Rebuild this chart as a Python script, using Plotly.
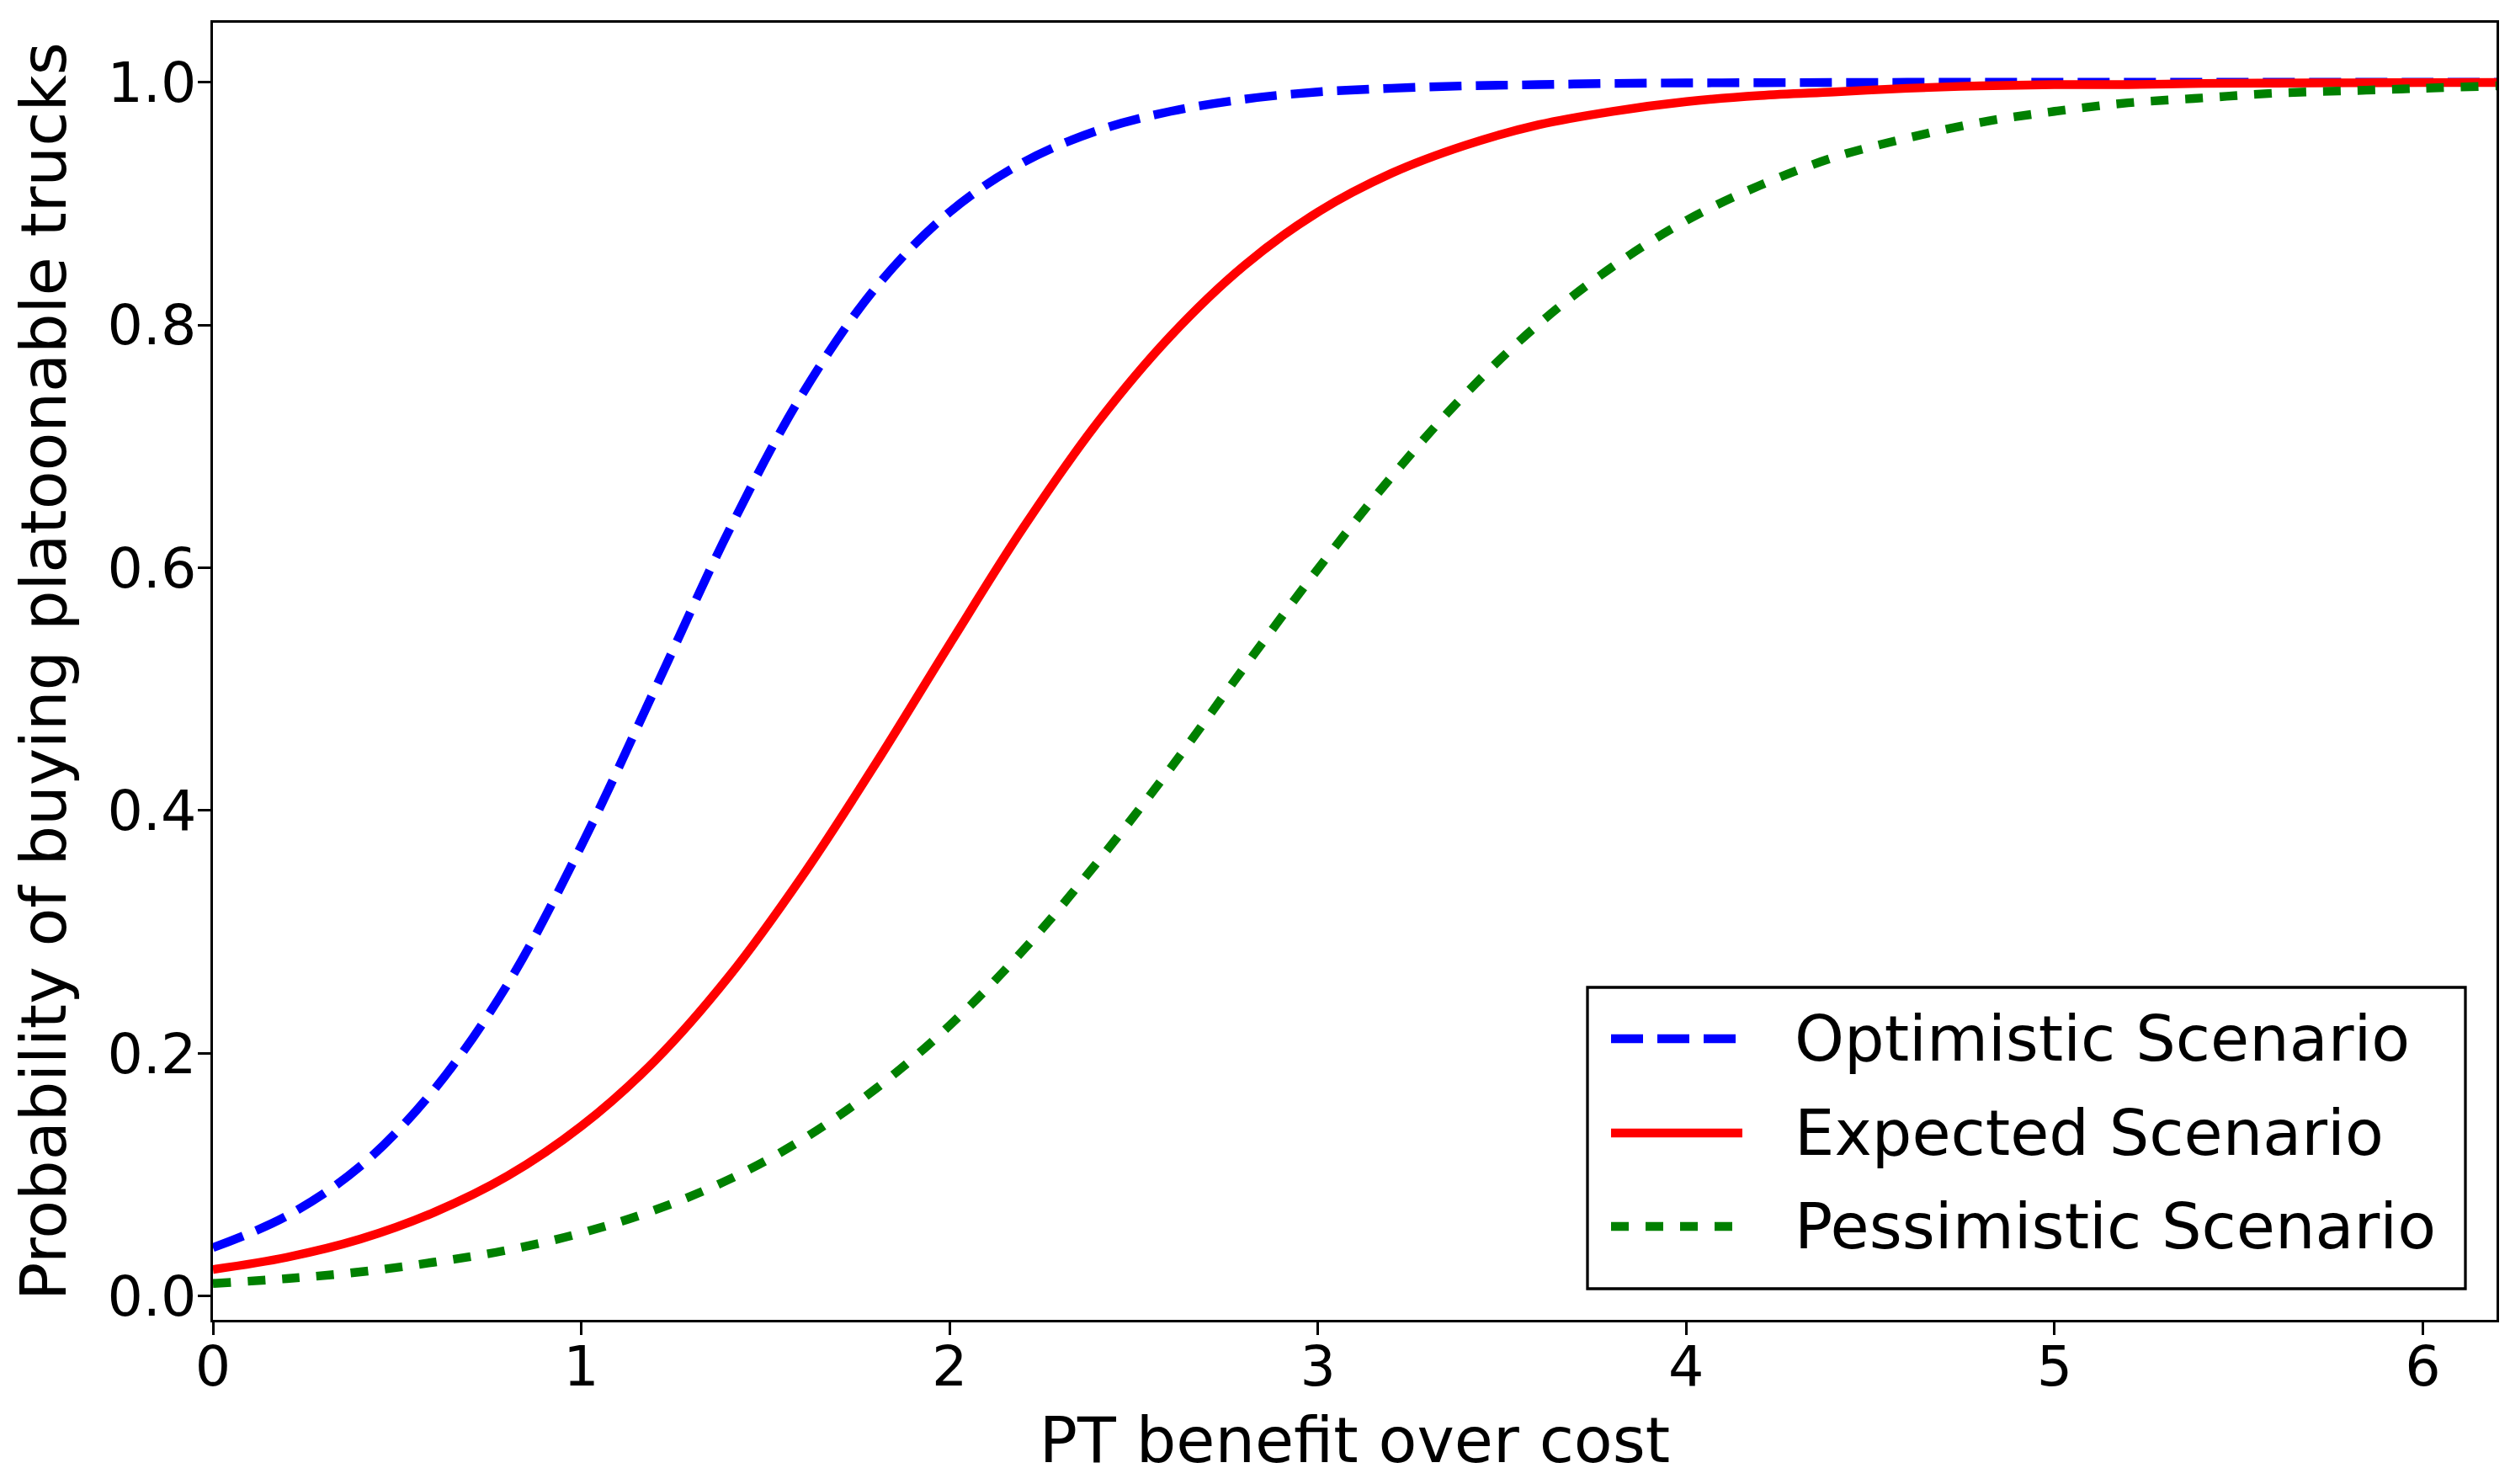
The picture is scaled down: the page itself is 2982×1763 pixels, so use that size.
import plotly.graph_objects as go

# ---- data ----
benefit = [0.0, 0.2, 0.4, 0.6, 0.8, 1.0, 1.2, 1.4, 1.6, 1.8, 2.0, 2.2, 2.4, 2.6, 2.8, 3.0,
           3.2, 3.4, 3.6, 3.8, 4.0, 4.2, 4.4, 4.6, 4.8, 5.0, 5.2, 5.4, 5.6, 5.8, 6.0, 6.2]

optimistic = [0.040, 0.066, 0.107, 0.170, 0.257, 0.371, 0.500, 0.630, 0.743, 0.831, 0.893,
              0.934, 0.960, 0.976, 0.986, 0.992, 0.995, 0.997, 0.998, 0.999, 0.9994, 0.9996,
              0.9998, 0.9999, 0.9999, 1.0, 1.0, 1.0, 1.0, 1.0, 1.0, 1.0]

expected = [0.022, 0.032, 0.047, 0.069, 0.099, 0.140, 0.194, 0.263, 0.346, 0.439, 0.537,
            0.633, 0.719, 0.791, 0.849, 0.893, 0.925, 0.948, 0.965, 0.976, 0.984, 0.989,
            0.992, 0.995, 0.997, 0.998, 0.998, 0.999, 0.9993, 0.9995, 0.9997, 0.9998]

pessimistic = [0.0105, 0.0145, 0.020, 0.028, 0.038, 0.052, 0.071, 0.096, 0.129, 0.171, 0.223,
               0.285, 0.357, 0.435, 0.518, 0.599, 0.675, 0.743, 0.801, 0.848, 0.886, 0.915,
               0.938, 0.954, 0.967, 0.976, 0.983, 0.987, 0.991, 0.993, 0.995, 0.997]

series_names = ["Optimistic Scenario", "Expected Scenario", "Pessimistic Scenario"]
x_ticks = [0, 1, 2, 3, 4, 5, 6]
y_ticks = [0.0, 0.2, 0.4, 0.6, 0.8, 1.0]
x_title = "PT benefit over cost"
y_title = "Probability of buying platoonable trucks"

# ---- styles ----
OFF = 8                      # default page body margin
W, H = 2982 - 2 * OFF, 1763 - 2 * OFF
L, T = 253 - OFF, 27 - OFF
PW, PH = 2966 - 253, 1568 - 27
R, B = W - L - PW, H - T - PH
FONT = "DejaVu Sans"
colors = ["#0000ff", "#ff0000", "#008000"]
dashes = ["38px,17px", "solid", "21px,20px"]
LW = 10.4

fig = go.Figure()
for name, ys, c, d in zip(series_names, [optimistic, expected, pessimistic], colors, dashes):
    fig.add_trace(go.Scatter(
        x=benefit, y=ys, mode="lines", name=name, showlegend=False,
        line=dict(color=c, width=LW, dash=d, shape="spline", smoothing=1.0),
    ))

axis_common = dict(
    showline=True, linecolor="black", linewidth=3.3, mirror=True,
    ticks="outside", ticklen=15, tickwidth=3.3, tickcolor="black",
    showgrid=False, zeroline=False,
    tickfont=dict(family=FONT, size=66.7, color="black"),
)

fig.update_layout(
    width=W, height=H,
    margin=dict(l=L, r=R, t=T, b=B, autoexpand=False),
    paper_bgcolor="white", plot_bgcolor="white",
    font=dict(family=FONT, color="black"),
    xaxis=dict(range=[0, 6.2], tickvals=x_ticks, ticktext=[str(v) for v in x_ticks],
               ticklabelstandoff=-20,
               title=dict(text=x_title, font=dict(family=FONT, size=75, color="black"), standoff=26),
               **axis_common),
    yaxis=dict(range=[-0.0195, 1.049], tickvals=y_ticks, ticktext=[f"{v:.1f}" for v in y_ticks],
               ticklabelstandoff=-12,
               title=dict(text=y_title, font=dict(family=FONT, size=75, color="black"), standoff=28),
               **axis_common),
)

# ---- legend drawn in paper coordinates (page-pixel positions converted) ----
def px(xp):
    return (xp - 253) / PW
def py(yp):
    return (1568 - yp) / PH

fig.add_shape(type="rect", xref="paper", yref="paper",
              x0=px(1886), x1=px(2929), y0=py(1531), y1=py(1173),
              line=dict(color="black", width=3.3), fillcolor="white", layer="above")
legend_rows = [1234, 1346, 1457]
for name, c, d, yrow in zip(series_names, colors, dashes, legend_rows):
    fig.add_shape(type="line", xref="paper", yref="paper",
                  x0=px(1914), x1=px(2070), y0=py(yrow), y1=py(yrow),
                  line=dict(color=c, width=LW, dash=d), layer="above")
    fig.add_annotation(text=name, xref="paper", yref="paper",
                       x=px(2130), y=py(yrow), xanchor="left", yanchor="middle",
                       showarrow=False, font=dict(family=FONT, size=75, color="black"))

fig.write_html("out.html")
